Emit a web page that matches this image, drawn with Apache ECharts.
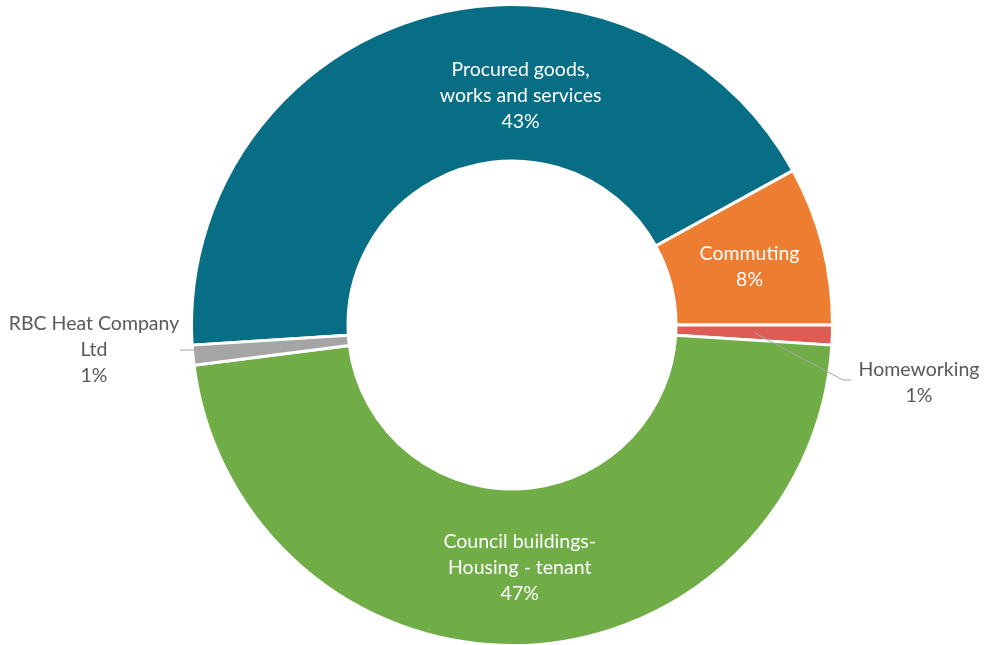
<!DOCTYPE html>
<html>
<head>
<meta charset="utf-8">
<script src="https://cdn.jsdelivr.net/npm/echarts@6/dist/echarts.min.js"></script>
<style>
  html, body { margin: 0; padding: 0; background: #ffffff; }
  #chart { width: 988px; height: 645px; }
</style>
</head>
<body>
<div id="chart"></div>
<script>
// Emission sources and their share of the total (%)
const categories = [
  'Procured goods,\nworks and services',
  'Commuting',
  'Homeworking',
  'Council buildings-\nHousing - tenant',
  'RBC Heat Company\nLtd'
];
const shares = [43, 8, 1, 47, 1];
const colors = ['#076e85', '#ed7d31', '#dd5d55', '#70ad47', '#a5a5a5'];

// Ring geometry
const CENTER = [512, 325];
const R_IN = 164;
const R_OUT = 320.5;
const START_ANGLE = 183.6;
const TEXT_FONT = 'Lato, "Open Sans", sans-serif';
const GUIDE_COLOR = '#a6a6a6';

// Mid angle of a slice in ECharts degrees (counter-clockwise from 3 o'clock)
function midAngle(i) {
  const total = shares.reduce((a, b) => a + b, 0);
  let before = 0;
  for (let k = 0; k < i; k++) before += shares[k];
  return START_ANGLE - (before + shares[i] / 2) / total * 360;
}
function polar(angleDeg, r) {
  const a = angleDeg * Math.PI / 180;
  return [CENTER[0] + r * Math.cos(a), CENTER[1] - r * Math.sin(a)];
}

// Hand-placed label anchors for the two thin slices
const HOME_ANCHOR = [919, 383];
const RBC_ANCHOR = [94, 350];

const outsideIdx = [2, 4];
const data = categories.map((name, i) => {
  const item = { name: name, value: shares[i], itemStyle: { color: colors[i] } };
  if (outsideIdx.includes(i)) {
    item.label = { position: 'outside', color: '#595959' };
    item.labelLine = { show: false };
  }
  return item;
});

// Leader lines for the outside labels
const homeStart = polar(midAngle(2), (R_IN + R_OUT) / 2);
const homeLine = [homeStart, [HOME_ANCHOR[0] - 76, HOME_ANCHOR[1] - 3], [HOME_ANCHOR[0] - 68, HOME_ANCHOR[1] - 3]];
const rbcLine = [[RBC_ANCHOR[0] + 86, RBC_ANCHOR[1]], [RBC_ANCHOR[0] + 101, RBC_ANCHOR[1]]];

const chart = echarts.init(document.getElementById('chart'), null, { renderer: 'canvas' });

chart.setOption({
  backgroundColor: '#ffffff',
  animation: false,
  graphic: [
    { type: 'polyline', z: 100, silent: true, shape: { points: homeLine },
      style: { stroke: GUIDE_COLOR, lineWidth: 1, fill: null } },
    { type: 'polyline', z: 100, silent: true, shape: { points: rbcLine },
      style: { stroke: GUIDE_COLOR, lineWidth: 1, fill: null } }
  ],
  series: [{
    type: 'pie',
    center: CENTER,
    radius: [R_IN, R_OUT],
    startAngle: START_ANGLE,
    clockwise: true,
    avoidLabelOverlap: false,
    silent: true,
    itemStyle: { borderColor: '#ffffff', borderWidth: 3 },
    label: {
      show: true,
      position: 'inner',
      color: '#ffffff',
      fontFamily: TEXT_FONT,
      fontSize: 19.5,
      lineHeight: 26,
      align: 'center',
      formatter: p => p.name + '\n' + p.value + '%'
    },
    labelLine: { show: false },
    labelLayout: function (params) {
      const i = params.dataIndex;
      if (i === 0) return { dx: 77, dy: 6.5 };
      if (i === 1) return { dy: 3 };
      if (i === 3) return { dy: -2.5 };
      if (i === 2) {
        return { x: HOME_ANCHOR[0], y: HOME_ANCHOR[1], align: 'center', verticalAlign: 'middle' };
      }
      if (i === 4) {
        return { x: RBC_ANCHOR[0], y: RBC_ANCHOR[1], align: 'center', verticalAlign: 'middle' };
      }
      return {};
    },
    emphasis: { disabled: true },
    data: data
  }]
});
</script>
</body>
</html>
